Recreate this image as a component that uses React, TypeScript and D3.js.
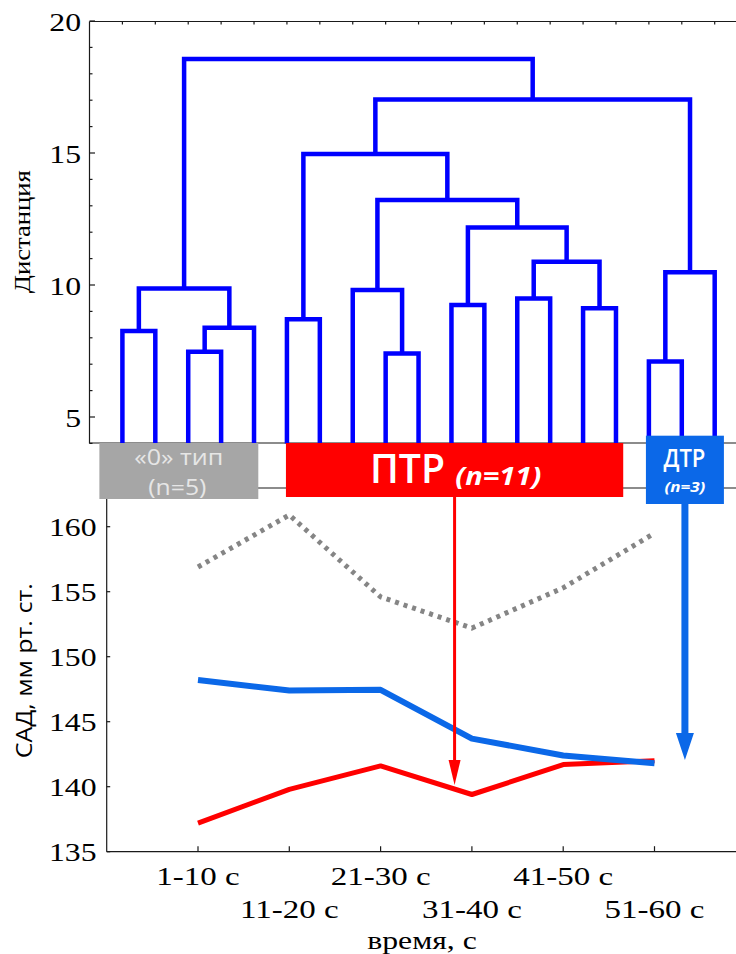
import React, { useEffect } from 'react';
import * as d3 from 'd3';

// Cluster tree over 19 observations: each merge is [left node, right node, distance].
// Nodes 0..18 are leaves; merge k creates node 19 + k.
const leafCount = 19;
const merges: [number, number, number][] = [
  [0, 1, 8.26],
  [2, 3, 7.47],
  [20, 4, 8.38],
  [19, 21, 9.87],
  [5, 6, 8.7],
  [8, 9, 7.41],
  [7, 24, 9.81],
  [10, 11, 9.24],
  [12, 13, 9.49],
  [14, 15, 9.12],
  [27, 28, 10.88],
  [26, 29, 12.18],
  [25, 30, 13.22],
  [23, 31, 14.96],
  [16, 17, 7.1],
  [33, 18, 10.48],
  [32, 34, 17.03],
  [22, 35, 18.56],
];
const distanceTicks = [5, 10, 15, 20];

// Groups found by the clustering (leaf ranges)
const groupNames = ['«0» тип', 'ПТР', 'ДТР'];
const groupFirstLeaf = [0, 5, 16];
const groupLastLeaf = [4, 15, 18];

// Systolic pressure by time window
const timeLabels = ['1-10 с', '11-20 с', '21-30 с', '31-40 с', '41-50 с', '51-60 с'];
const sadZeroType = [156.9, 160.9, 154.6, 152.2, 155.3, 159.5];
const sadDTR = [148.2, 147.4, 147.45, 143.7, 142.4, 141.8];
const sadPTR = [137.2, 139.8, 141.6, 139.4, 141.7, 142.0];
const sadTicks = [135, 140, 145, 150, 155, 160];

const W = 736;
const H = 954;
const SERIF = '"Liberation Serif", "Times New Roman", serif';
const SANS = '"Open Sans", "Noto Sans", sans-serif';
const BLUE = '#0b68e8';
const RED = '#ff0000';
const DENDRO = '#0000ff';
const GREY_BOX = '#a6a6a6';
const GREY_LINE = '#858585';
const STRETCH = 1.27;

type STextProps = {
  x: number;
  y: number;
  size: number;
  anchor?: 'start' | 'middle' | 'end';
  sx?: number;
  family?: string;
  children: React.ReactNode;
  [k: string]: any;
};

function SText({ x, y, size, anchor = 'middle', sx = STRETCH, family = SERIF, children, ...rest }: STextProps) {
  return (
    <text
      transform={`translate(${x},${y}) scale(${sx},1)`}
      textAnchor={anchor}
      fontSize={size}
      fontFamily={family}
      {...rest}
    >
      {children}
    </text>
  );
}

export default function App() {
  useEffect(() => {
    document.body.style.margin = '0';
    document.body.style.overflow = 'hidden';
  }, []);

  // ---- upper panel: dendrogram ----
  const topLeft = 89.5;
  const topTop = 21.5;
  const topBottom = 443.4;
  const xLeaf = d3.scaleLinear().domain([-1, leafCount]).range([topLeft, 747.6]);
  const yDist = d3.scaleLinear().domain([4, 20]).range([topBottom, 21]);

  const nodeX: number[] = d3.range(leafCount).map((i) => xLeaf(i));
  const nodeH: number[] = d3.range(leafCount).map(() => 4);
  const branchPaths = merges.map(([a, b, h]) => {
    const p = d3.path();
    p.moveTo(nodeX[a], yDist(nodeH[a]));
    p.lineTo(nodeX[a], yDist(h));
    p.lineTo(nodeX[b], yDist(h));
    p.lineTo(nodeX[b], yDist(nodeH[b]));
    nodeX.push((nodeX[a] + nodeX[b]) / 2);
    nodeH.push(h);
    return p.toString();
  });

  // ---- lower panel: pressure lines ----
  const botLeft = 106.7;
  const botTop = 488;
  const botBottom = 851.7;
  const xTime = d3.scaleLinear().domain([0, 7]).range([botLeft, 745.8]);
  const ySad = d3.scaleLinear().domain([135, 163]).range([botBottom, 487.7]);
  const line = d3
    .line<number>()
    .x((_, i) => xTime(i + 1))
    .y((d) => ySad(d));

  // group label boxes, expressed in leaf units
  const boxPad: [number, number][] = [
    [0.7, 0.13],
    [0.03, 0.22],
    [0.09, 0.28],
  ];
  const boxY: [number, number][] = [
    [443, 499],
    [443, 497],
    [435.7, 504],
  ];
  const boxFill = [GREY_BOX, RED, BLUE];
  const boxes = groupNames.map((name, g) => {
    const x0 = xLeaf(groupFirstLeaf[g] - boxPad[g][0]);
    const x1 = xLeaf(groupLastLeaf[g] + boxPad[g][1]);
    return { name, x0, x1, y0: boxY[g][0], y1: boxY[g][1], cx: (x0 + x1) / 2, n: groupLastLeaf[g] - groupFirstLeaf[g] + 1, fill: boxFill[g] };
  });
  const [greyBox, redBox, blueBox] = boxes;

  const axisColor = '#1a1a1a';

  return (
    <svg width={W} height={H} viewBox={`0 0 ${W} ${H}`} style={{ position: 'absolute', left: 0, top: 0, background: '#fff' }}>
      {/* upper panel frame */}
      <g stroke={axisColor} strokeWidth={1.2} fill="none">
        <line x1={topLeft} x2={topLeft} y1={topTop} y2={topBottom} />
        <line x1={topLeft} x2={W + 20} y1={topTop} y2={topTop} />
        <line x1={topLeft} x2={W + 20} y1={topBottom - 0.4} y2={topBottom - 0.4} />
        {d3.range(4, 21).map((v) => (
          <line key={`m${v}`} x1={topLeft} x2={topLeft + (v % 5 === 0 ? 5.5 : 3)} y1={yDist(v)} y2={yDist(v)} />
        ))}
        {d3.range(leafCount).map((i) => (
          <line key={`t${i}`} x1={xLeaf(i)} x2={xLeaf(i)} y1={topTop} y2={topTop + 3} />
        ))}
      </g>
      {distanceTicks.map((v) => (
        <SText key={v} x={81} y={yDist(v) + 9.5} size={25} anchor="end" fill="#000">
          {v}
        </SText>
      ))}
      <text
        transform={`translate(22.5,231.7) rotate(-90)`}
        textAnchor="middle"
        dominantBaseline="central"
        fontFamily={SERIF}
        fontSize={23}
        textLength={123}
        lengthAdjust="spacingAndGlyphs"
        fill="#000"
      >
        Дистанция
      </text>

      {/* dendrogram branches */}
      <g stroke={DENDRO} strokeWidth={4.5} fill="none" strokeLinejoin="miter">
        {branchPaths.map((d, i) => (
          <path key={i} d={d} />
        ))}
      </g>

      {/* lower panel frame */}
      <g stroke={axisColor} strokeWidth={1.2} fill="none">
        <line x1={botLeft} x2={botLeft} y1={botTop} y2={botBottom} />
        <line x1={botLeft} x2={W + 20} y1={botTop} y2={botTop} />
        <line x1={botLeft} x2={W + 20} y1={botBottom} y2={botBottom} />
        {sadTicks.map((v) => (
          <line key={`s${v}`} x1={botLeft} x2={botLeft + 3.5} y1={ySad(v)} y2={ySad(v)} />
        ))}
        {timeLabels.map((_, i) => (
          <line key={`x${i}`} x1={xTime(i + 1)} x2={xTime(i + 1)} y1={botBottom} y2={botBottom - 5.5} />
        ))}
      </g>
      {sadTicks.map((v) => (
        <SText key={v} x={96.5} y={ySad(v) + 9.5} size={25} anchor="end" fill="#000">
          {v}
        </SText>
      ))}
      {timeLabels.map((t, i) => (
        <SText key={t} x={xTime(i + 1)} y={i % 2 === 0 ? 885 : 918} size={26} fill="#000">
          {t}
        </SText>
      ))}
      <SText x={422} y={949} size={25} fill="#000">
        время, с
      </SText>
      <text
        transform={`translate(23.3,670.8) rotate(-90)`}
        textAnchor="middle"
        dominantBaseline="central"
        fontFamily={SANS}
        fontSize={22}
        textLength={175}
        lengthAdjust="spacingAndGlyphs"
        fill="#000"
      >
        САД, мм рт. ст.
      </text>

      {/* pressure series */}
      <path d={line(sadZeroType) || ''} fill="none" stroke={GREY_LINE} strokeWidth={5} strokeDasharray="4 5" />
      <path d={line(sadPTR) || ''} fill="none" stroke={RED} strokeWidth={5} strokeLinejoin="round" />
      <path d={line(sadDTR) || ''} fill="none" stroke={BLUE} strokeWidth={6} strokeLinejoin="round" />

      {/* group boxes */}
      {boxes.map((b) => (
        <rect key={b.name} x={b.x0} y={b.y0} width={b.x1 - b.x0} height={b.y1 - b.y0} fill={b.fill} />
      ))}
      <text x={greyBox.cx} y={464.7} textAnchor="middle" fontFamily={SANS} fontSize={21} fill="#e6e6e6" textLength={89} lengthAdjust="spacingAndGlyphs">
        {greyBox.name}
      </text>
      <text x={greyBox.cx - 1.5} y={494.5} textAnchor="middle" fontFamily={SANS} fontSize={22} fill="#e6e6e6" textLength={58} lengthAdjust="spacingAndGlyphs">
        (n={greyBox.n})
      </text>
      <text x={407.5} y={483} textAnchor="middle" fontFamily={SANS} fontWeight={600} fontSize={40} fill="#fff" textLength={75} lengthAdjust="spacingAndGlyphs">
        {redBox.name}
      </text>
      <text x={498.3} y={484.5} textAnchor="middle" fontFamily={SANS} fontWeight={700} fontStyle="italic" fontSize={25} fill="#fff" textLength={86} lengthAdjust="spacingAndGlyphs">
        (n={redBox.n})
      </text>
      <text x={blueBox.cx - 0.5} y={466.7} textAnchor="middle" fontFamily={SANS} fontWeight={600} fontSize={25} fill="#fff" textLength={42} lengthAdjust="spacingAndGlyphs">
        {blueBox.name}
      </text>
      <text x={blueBox.cx} y={491.5} textAnchor="middle" fontFamily={SANS} fontWeight={700} fontStyle="italic" fontSize={15} fill="#fff" textLength={41} lengthAdjust="spacingAndGlyphs">
        (n={blueBox.n})
      </text>

      {/* arrows from group boxes */}
      <line x1={redBox.cx} x2={redBox.cx} y1={redBox.y1} y2={762} stroke={RED} strokeWidth={3} />
      <path d={`M${redBox.cx - 6},760L${redBox.cx + 6},760L${redBox.cx},785Z`} fill={RED} />
      <line x1={blueBox.cx} x2={blueBox.cx} y1={blueBox.y1} y2={736} stroke={BLUE} strokeWidth={7} />
      <path d={`M${blueBox.cx - 9},733L${blueBox.cx + 9},733L${blueBox.cx},760Z`} fill={BLUE} />
    </svg>
  );
}
